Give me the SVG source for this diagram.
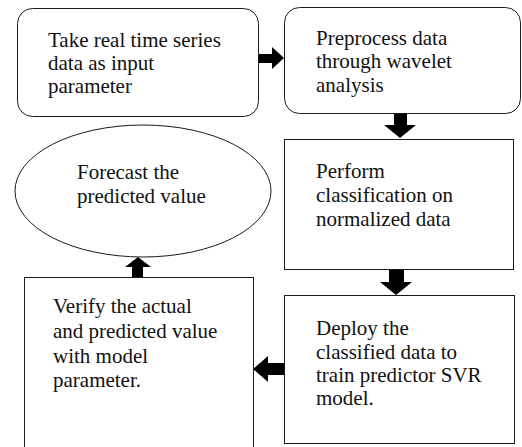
<svg xmlns="http://www.w3.org/2000/svg" width="522" height="447" viewBox="0 0 522 447">
<style>
.n{fill:#fff;stroke:#1a1a1a;stroke-width:1}
.t{font-family:"Liberation Serif","Times New Roman",serif;font-size:21px;fill:#111}
.a{fill:#000;stroke:none}
</style>
<rect width="522" height="447" fill="#fff"/>
<g id="n1"><rect class="n" x="17.5" y="8.5" width="241" height="108" rx="15"/>
<text class="t" x="48" y="47">Take real time series</text><text class="t" x="48" y="70">data as input</text><text class="t" x="48" y="93">parameter</text></g>
<g id="n2"><rect class="n" x="284.5" y="7.5" width="236" height="106" rx="15"/>
<text class="t" x="316" y="45">Preprocess data</text><text class="t" x="316" y="68">through wavelet</text><text class="t" x="316" y="92">analysis</text></g>
<g id="n3"><rect class="n" x="284.5" y="139.5" width="229" height="130"/>
<text class="t" x="316" y="178">Perform</text><text class="t" x="316" y="202">classification on</text><text class="t" x="316" y="226">normalized data</text></g>
<g id="n4"><rect class="n" x="284.5" y="295.5" width="230" height="148"/>
<text class="t" x="316" y="335">Deploy the</text><text class="t" x="316" y="359">classified data to</text><text class="t" x="316" y="382">train predictor SVR</text><text class="t" x="316" y="405">model.</text></g>
<g id="n5"><rect class="n" x="24.5" y="277.5" width="229" height="175"/>
<text class="t" x="53" y="313">Verify the actual</text><text class="t" x="53" y="338">and predicted value</text><text class="t" x="53" y="363">with model</text><text class="t" x="53" y="387">parameter.</text></g>
<g id="n6"><ellipse class="n" cx="143" cy="191" rx="128" ry="66"/>
<text class="t" x="77" y="179">Forecast the</text><text class="t" x="77" y="203">predicted value</text></g>
<g id="connectors">
<polygon class="a" points="259,54 272,54 272,47 284,58 272,69 272,63 259,63"/>
<polygon class="a" points="394,114 407,114 407,125 416,125 400,138 384,125 394,125"/>
<polygon class="a" points="389,270 404,270 404,282 412,282 396,295 380,282 389,282"/>
<polygon class="a" points="284,363 268,363 268,356 253,369 268,382 268,375 284,375"/>
<polygon class="a" points="132,277 143,277 143,267 151,267 138,257 125,267 132,267"/>
</g>
</svg>
